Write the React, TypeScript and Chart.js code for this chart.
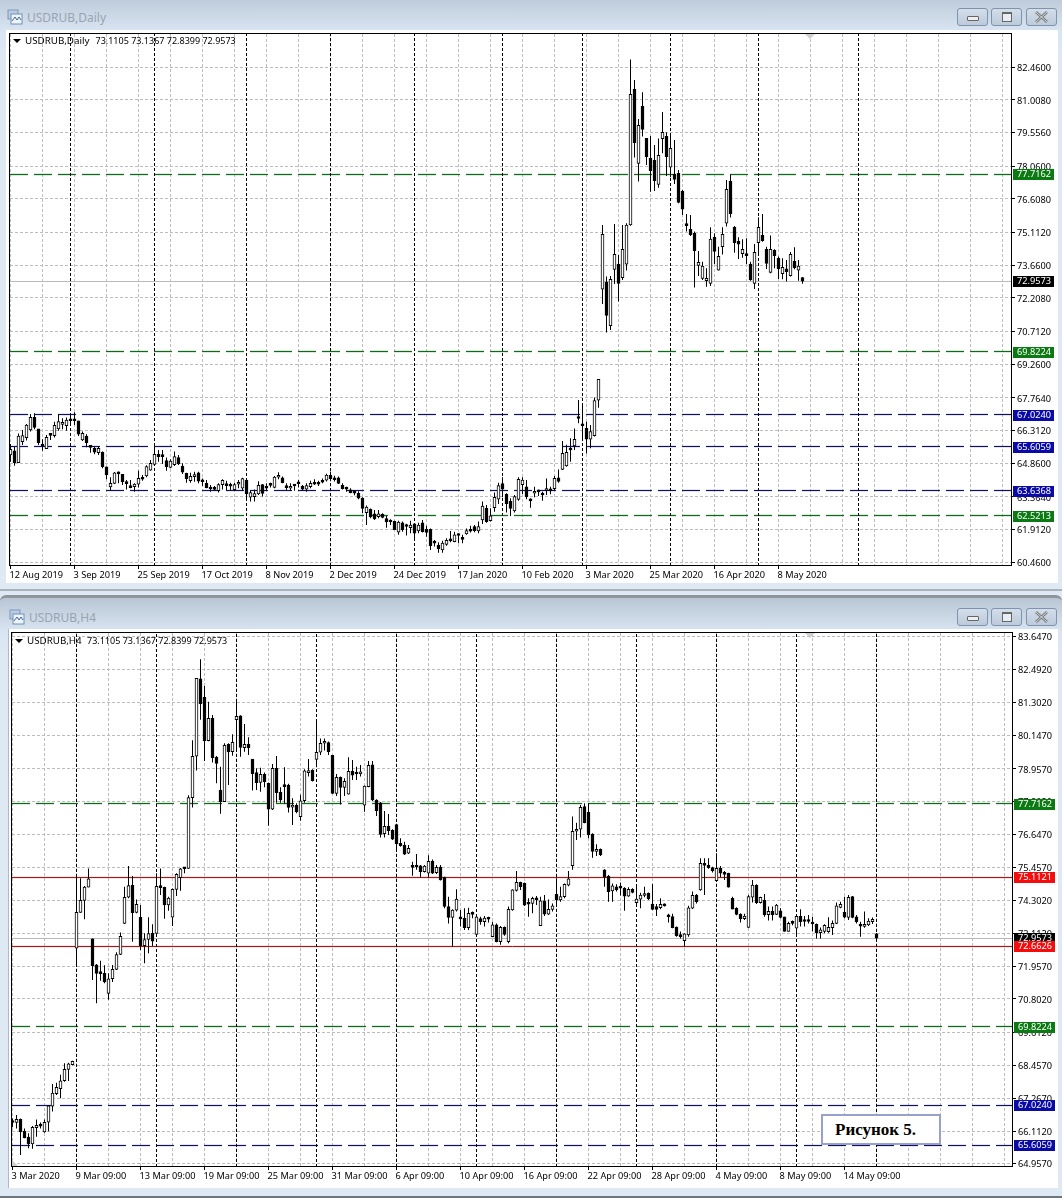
import React, { useEffect, useRef } from "react";
import { Chart, registerables } from "chart.js";

Chart.register(...registerables);

// ---------- Daily chart values: [open, high, low, close] ----------
const dailyAug2019 = [
  [65.23,65.72,64.93,65.48],[65.41,65.60,64.75,64.89],[64.89,66.19,64.89,66.07],[65.82,66.34,65.67,66.09],
  [66.00,66.61,65.87,66.56],[66.34,67.05,66.27,66.90],[66.90,67.08,66.37,66.46],[66.39,66.39,65.67,65.78],
  [65.70,65.93,65.42,65.63],[65.51,66.12,65.51,66.01],[66.19,66.19,65.90,66.10],[66.09,66.71,66.01,66.55],
  [66.39,67.04,66.31,66.71],[66.59,66.86,66.37,66.61],[66.53,66.90,66.31,66.78],
];
const dailySep2019 = [
  [66.78,67.01,66.64,66.75],[66.78,67.13,66.56,66.75],[66.75,66.75,66.07,66.16],[65.90,66.27,65.85,66.19],
  [66.07,66.15,65.57,65.78],[65.60,65.67,65.33,65.57],[65.53,65.60,65.26,65.36],[65.33,65.63,65.23,65.53],
  [65.36,65.38,64.64,64.71],[64.70,64.71,64.15,64.34],[63.81,64.24,63.64,63.97],[63.97,64.47,63.94,64.44],
  [64.46,64.50,63.97,64.39],[64.37,64.39,63.90,64.04],[64.01,64.12,63.70,63.96],[63.84,64.12,63.75,63.78],
  [63.82,63.97,63.60,63.94],[63.93,64.53,63.79,64.19],[64.19,64.34,64.09,64.15],[64.30,64.77,64.24,64.71],
  [64.56,65.01,64.53,64.86],
];
const dailyOct2019 = [
  [64.81,65.60,64.78,65.26],[65.26,65.45,64.93,65.16],[65.23,65.45,64.83,65.16],[64.98,65.12,64.53,64.71],
  [64.68,65.04,64.64,64.96],[64.80,65.38,64.74,65.16],[65.12,65.23,64.78,64.83],[64.74,64.86,64.39,64.47],
  [64.41,64.44,64.00,64.18],[64.09,64.44,64.00,64.28],[64.27,64.49,64.04,64.28],[64.44,64.49,63.97,64.07],
  [64.10,64.19,63.85,64.04],[63.97,64.12,63.75,63.78],[63.75,63.90,63.60,63.72],[63.73,63.85,63.64,63.70],
  [63.64,63.97,63.56,63.91],[63.91,64.15,63.70,64.10],[63.90,64.09,63.64,63.87],[63.87,64.00,63.64,63.84],
  [63.69,64.00,63.64,63.91],[63.93,64.12,63.75,63.99],[63.75,64.22,63.64,64.18],
];
const dailyNov2019 = [
  [64.12,64.19,63.30,63.50],[63.35,63.64,63.16,63.56],[63.38,63.70,63.16,63.52],[63.50,64.06,63.45,63.88],
  [63.91,63.94,63.38,63.52],[63.85,63.97,63.64,63.75],[63.94,64.00,63.79,63.88],[63.79,64.30,63.75,64.25],
  [64.24,64.46,64.15,64.33],[64.21,64.27,63.97,64.00],[63.85,63.97,63.64,63.78],[63.75,63.97,63.64,63.84],
  [63.88,63.94,63.64,63.85],[63.97,64.12,63.79,63.95],[63.85,63.90,63.65,63.71],[63.71,63.97,63.60,63.87],
  [63.82,64.09,63.75,63.97],[63.97,64.15,63.90,63.93],[63.96,64.09,63.85,63.93],[64.06,64.19,63.97,64.02],
  [64.11,64.40,64.05,64.34],
];
const dailyDec2019 = [
  [64.33,64.49,64.15,64.18],[64.16,64.31,64.05,64.13],[64.21,64.27,63.94,63.97],[63.88,63.97,63.70,63.73],
  [63.75,63.82,63.60,63.71],[63.68,63.75,63.53,63.56],[63.57,63.65,63.44,63.53],[63.53,63.62,63.26,63.31],
  [63.31,63.35,62.64,62.85],[62.67,62.98,62.12,62.92],[62.82,62.85,62.42,62.48],[62.61,62.79,62.34,62.39],
  [62.49,62.79,62.42,62.61],[62.59,62.64,62.42,62.46],[62.40,62.52,62.00,62.27],[62.28,62.37,62.12,62.25],
  [62.28,62.31,61.90,61.91],[61.80,62.31,61.68,62.25],[62.22,62.27,61.82,61.90],[62.08,62.17,61.65,62.05],
  [62.00,62.31,61.75,62.11],
];
const dailyJan2020 = [
  [62.17,62.20,61.48,61.75],[61.85,62.22,61.75,62.12],[62.22,62.34,61.79,61.82],[61.93,62.08,61.60,61.79],
  [61.93,61.96,61.01,61.20],[61.39,61.45,61.16,61.31],[61.23,61.35,60.89,61.07],[61.01,61.42,60.89,61.31],
  [61.26,61.53,61.20,61.44],[61.44,61.85,61.35,61.41],[61.38,61.82,61.35,61.68],[61.68,61.75,61.31,61.65],
  [61.51,61.68,61.31,61.48],[61.72,61.96,61.68,61.87],[61.88,62.09,61.78,61.84],[62.05,62.12,61.80,61.87],
  [61.85,62.27,61.75,62.05],[62.34,63.16,62.16,62.96],[62.86,63.01,62.22,62.27],[62.31,62.86,62.27,62.53],
  [62.89,63.56,62.71,63.35],[63.27,64.00,63.05,63.87],
];
const dailyFeb2020 = [
  [63.96,64.24,63.35,63.71],[63.48,63.53,62.67,63.07],[63.17,63.31,62.52,62.86],[62.74,63.45,62.67,63.38],
  [63.26,64.24,63.20,64.15],[63.91,64.24,63.50,64.11],[63.82,64.12,63.26,63.38],[63.23,63.31,62.89,63.19],
  [63.53,63.82,63.35,63.60],[63.62,63.68,63.41,63.59],[63.48,63.60,63.20,63.45],[63.65,64.19,63.45,63.73],
  [63.73,63.82,63.48,63.63],[63.73,64.30,63.65,64.19],[64.22,64.59,64.00,64.05],[64.59,65.85,64.56,65.30],
  [64.74,65.68,64.71,65.35],[65.48,65.97,64.93,65.45],[65.63,66.41,65.45,65.93],[66.90,67.67,66.64,66.85],
];
const dailyMar2020 = [
  [66.58,67.45,65.90,66.53],[66.41,66.71,65.30,65.93],[65.93,66.56,65.53,66.27],[66.09,67.79,66.05,67.65],
  [67.67,68.59,67.33,68.59],[72.60,75.45,71.94,75.04],[72.91,73.16,70.67,71.43],[70.98,73.19,70.79,73.04],
  [73.48,75.50,72.83,74.15],[73.71,74.12,72.05,72.86],[73.11,75.45,73.01,74.37],[73.71,75.53,73.43,75.45],
  [75.45,82.81,75.42,81.26],[81.48,81.90,78.45,79.11],[78.19,80.16,77.38,79.88],[80.74,81.35,79.38,79.70],
  [79.30,79.30,78.12,78.49],[78.42,79.41,76.93,77.87],[78.33,79.01,76.96,77.42],[77.26,79.30,77.11,78.55],
  [79.29,80.47,78.64,79.57],[79.39,79.57,77.63,78.49],
];
const dailyApr2020 = [
  [78.02,79.45,77.57,78.86],[77.70,79.23,77.27,77.48],[77.75,77.90,76.42,76.45],[76.95,77.01,75.90,76.15],
  [75.50,75.94,75.16,75.42],[75.26,75.90,74.96,75.02],[75.08,75.16,72.67,74.31],[73.65,74.30,73.19,73.79],
  [73.08,73.82,73.01,73.63],[72.98,73.53,72.71,73.08],[72.86,75.35,72.74,74.82],[74.91,75.08,73.72,74.28],
  [73.44,74.49,73.43,74.06],[74.49,75.35,74.14,75.04],[75.53,77.45,75.38,77.04],[77.39,77.70,75.79,75.94],
  [75.35,75.41,74.22,74.67],[74.73,74.91,73.94,74.60],[74.18,74.82,74.00,74.37],[74.17,74.86,73.72,74.09],
  [73.71,73.82,72.97,73.01],[72.86,74.61,72.61,74.24],
];
const dailyMay2020 = [
  [74.67,75.80,74.08,75.35],[74.99,75.94,74.71,74.76],[74.37,74.49,73.50,73.74],[73.34,74.99,73.31,74.37],
  [74.33,74.37,73.53,74.09],[73.97,74.05,73.05,73.51],[73.29,73.97,73.04,73.57],[73.50,73.90,72.94,73.38],
  [73.20,74.25,73.16,74.15],[73.84,74.46,73.48,73.56],[73.44,73.90,72.97,73.62],[73.1105,73.1367,72.8399,72.9573],
];
const dailyCandles = [
  ...dailyAug2019, ...dailySep2019, ...dailyOct2019, ...dailyNov2019, ...dailyDec2019,
  ...dailyJan2020, ...dailyFeb2020, ...dailyMar2020, ...dailyApr2020, ...dailyMay2020,
];

// ---------- H4 chart values: [open, high, low, close] ----------
const h4Part1 = [
  [66.47,66.56,66.25,66.42],[66.42,66.69,66.21,66.53],[66.53,66.56,65.27,66.09],[66.12,66.21,65.86,65.87],
  [65.90,66.04,65.51,65.66],[65.66,66.30,65.49,66.25],[66.24,66.53,65.92,66.32],[66.32,66.42,66.21,66.29],
  [66.09,66.53,66.06,66.43],[66.43,67.04,66.11,67.01],[67.00,67.79,66.81,67.46],[67.44,67.83,67.40,67.67],
  [67.62,68.11,67.28,67.90],[67.90,68.52,67.87,68.31],[68.30,68.54,67.89,68.50],[68.47,68.61,68.45,68.59],
  [72.60,75.12,71.98,73.87],[73.87,75.08,73.86,74.30],[74.30,74.81,73.63,74.77],[74.77,75.43,74.76,75.06],
  [72.93,72.95,71.47,71.98],[72.01,72.04,70.65,71.71],[71.72,72.16,71.45,71.70],[71.71,72.00,71.36,71.41],
  [71.00,71.71,70.77,71.52],[71.52,72.01,71.40,71.85],[71.85,72.46,71.83,72.38],[72.38,73.16,72.36,73.02],
  [73.48,74.78,73.46,74.41],[74.41,75.52,74.37,74.82],[74.83,75.16,72.83,73.86],[73.87,74.33,73.84,74.16],
  [73.70,74.13,72.54,72.69],[72.69,73.13,72.07,72.91],[72.91,73.70,72.42,73.12],[73.13,73.45,72.68,72.85],
];
const h4Part2 = [
  [73.13,75.26,73.11,74.80],[74.80,75.43,74.49,74.75],[74.76,74.78,73.65,74.14],[74.14,74.43,73.93,74.38],
  [73.70,74.72,73.39,74.69],[74.69,75.26,74.45,75.22],[75.10,75.45,74.64,75.42],[75.47,75.47,75.26,75.42],
  [75.43,78.03,75.42,77.94],[77.94,79.98,77.59,79.41],[79.41,82.17,78.90,82.17],[82.15,82.85,80.70,81.27],
  [81.50,81.90,79.24,79.96],[79.96,81.34,79.94,80.75],[80.75,80.87,79.19,79.36],[79.38,79.42,78.45,79.15],
  [78.21,79.04,77.37,77.80],[77.80,79.87,77.79,79.80],[79.83,79.87,78.39,79.56],[79.57,80.19,79.43,79.90],
  [80.71,81.40,79.63,80.82],[80.84,80.86,79.39,79.72],[79.71,80.55,79.57,79.83],[79.84,80.08,79.45,79.71],
  [79.31,79.31,78.19,78.79],
];
const h4Part3 = [
  [78.83,78.98,78.21,78.47],[78.48,79.00,78.15,78.77],[78.77,78.83,78.31,78.51],[78.45,78.48,76.94,77.53],
  [77.53,79.13,77.50,78.98],[78.98,79.42,77.76,78.12],[78.13,78.31,77.76,77.86],[78.38,79.02,77.72,78.33],
  [78.39,78.43,77.41,77.59],[77.60,77.92,76.97,77.68],[77.67,77.74,77.39,77.44],[77.27,78.04,77.12,77.83],
  [77.83,78.95,77.76,78.89],[78.83,79.31,78.69,78.90],[78.92,78.95,78.51,78.54],[79.30,80.69,79.02,79.55],
  [79.55,80.04,79.45,79.87],[79.87,80.04,79.61,79.89],[79.89,79.93,79.45,79.57],[79.44,79.44,78.07,78.09],
  [78.09,78.78,78.00,78.66],[78.66,78.69,77.70,78.30],[78.30,78.63,78.00,78.52],[78.06,79.37,78.05,78.87],
  [78.87,79.28,78.57,78.74],[78.80,79.04,78.57,78.78],[78.78,79.10,78.69,78.86],[77.67,78.37,77.44,78.35],
  [78.33,79.24,78.31,79.09],[79.10,79.24,77.82,77.86],[77.85,77.88,77.29,77.48],[77.76,77.79,76.53,76.64],
  [76.66,77.47,76.53,76.92],[76.92,77.36,76.62,76.77],[76.78,76.82,76.44,76.47],[76.99,77.01,76.03,76.30],
  [76.32,76.50,76.20,76.24],[76.26,76.38,75.91,75.94],[75.97,76.26,75.94,76.14],
];
const h4Part4 = [
  [75.51,75.67,75.17,75.47],[75.52,75.94,75.38,75.48],[75.52,75.55,75.12,75.32],[75.32,75.55,75.29,75.51],
  [75.26,75.90,75.12,75.68],[75.69,75.75,75.23,75.26],[75.28,75.55,75.23,75.47],[75.48,75.55,75.00,75.02],
  [75.12,75.14,74.02,74.08],[74.08,74.43,73.48,73.69],[73.69,73.98,72.66,73.95],[73.95,74.69,73.90,74.34],
  [73.66,73.96,73.37,73.64],[73.66,74.02,73.25,73.33],[73.33,74.04,73.25,73.84],[73.84,73.90,73.66,73.80],
  [73.09,73.80,73.07,73.71],[73.65,73.72,73.43,73.54],[73.54,73.74,73.37,73.67],[73.66,73.72,73.51,73.63],
  [73.01,73.54,72.99,73.43],[73.43,73.48,72.81,72.83],[72.83,73.39,72.72,73.34],[73.34,73.37,73.04,73.09],
  [72.83,74.08,72.78,73.98],[73.96,74.69,73.93,74.67],[74.65,75.34,74.61,74.94],[74.94,74.96,74.67,74.78],
  [74.90,74.93,74.10,74.13],[74.22,74.37,73.72,74.16],[74.19,74.43,73.84,74.37],[74.39,74.45,74.13,74.31],
  [73.40,74.43,73.39,74.28],[74.28,74.49,73.74,73.81],[73.81,74.33,73.78,73.98],[73.98,74.19,73.90,74.10],
  [74.51,75.08,74.10,74.31],
];
const h4Part5 = [
  [74.31,74.78,74.25,74.43],[74.43,74.90,74.37,74.87],[74.84,75.34,74.80,75.06],[75.53,77.27,75.38,76.75],
  [76.75,77.05,76.44,76.82],[76.82,77.68,76.53,77.60],[77.62,77.74,77.03,77.05],[77.42,77.74,76.50,76.62],
  [76.65,76.68,75.81,76.03],[76.03,76.29,75.87,76.11],[76.11,76.14,75.87,75.91],[75.38,75.40,74.78,75.12],
  [75.16,75.20,74.25,74.61],[74.63,74.90,74.25,74.81],[74.78,74.87,74.61,74.67],[74.76,74.93,74.47,74.73],
  [74.73,74.76,73.93,74.45],[74.45,74.76,74.43,74.69],[74.69,74.73,74.55,74.58],[74.22,74.78,74.13,74.34],
  [74.34,74.57,74.02,74.49],[74.47,74.78,74.41,74.54],[74.55,74.58,74.31,74.35],[74.17,74.88,73.96,73.98],
  [74.08,74.17,73.74,73.98],[74.04,74.37,73.98,74.16],[74.16,74.19,74.08,74.10],[73.73,73.82,73.51,73.71],
  [73.72,73.82,73.31,73.33],[73.35,73.37,73.01,73.05],[73.06,73.19,72.95,73.01],[72.87,73.13,72.66,73.11],
  [73.07,74.11,73.01,74.03],[74.02,74.61,73.99,74.48],[74.49,74.52,74.19,74.24],
];
const h4Part6 = [
  [74.67,75.79,74.64,75.61],[75.61,75.79,74.49,75.54],[75.55,75.79,75.42,75.46],[75.46,75.49,75.29,75.34],
  [75.00,75.97,74.96,75.43],[75.43,75.52,75.12,75.26],[75.26,75.34,75.02,75.22],[75.26,75.28,74.75,74.77],
  [74.37,74.43,73.98,73.99],[74.02,74.05,73.77,73.80],[73.80,73.84,73.51,73.65],[73.65,73.82,73.60,73.74],
  [73.34,74.49,73.33,74.43],[74.41,75.02,74.22,74.84],[74.84,74.87,74.17,74.22],[74.22,74.43,74.19,74.41],
  [74.31,74.52,73.72,73.78],[73.79,74.08,73.58,73.91],[73.91,74.08,73.58,73.78],[73.80,74.17,73.78,74.13],
  [73.93,74.02,73.66,73.69],[73.71,73.72,73.19,73.20],[73.20,73.54,73.19,73.48],[73.52,73.58,73.42,73.48],
  [73.31,73.78,73.05,73.73],[73.73,73.98,73.37,73.54],[73.59,73.74,73.37,73.55],[73.59,73.78,73.48,73.55],
  [73.48,73.72,73.19,73.46],[73.45,73.48,72.95,73.15],[73.15,73.34,72.95,73.25],[73.20,73.45,73.13,73.41],
  [73.19,73.70,73.15,73.34],[73.33,73.58,73.07,73.48],[73.48,74.22,73.46,74.10],[74.05,74.25,74.02,74.16],
  [73.87,74.43,73.66,73.70],[73.69,74.49,73.60,74.41],[74.43,74.45,73.66,73.69],[73.71,73.78,73.48,73.53],
  [73.46,73.54,73.01,73.38],[73.37,73.90,73.33,73.45],[73.43,73.66,73.39,73.56],[73.54,73.69,73.46,73.63],
  [73.1105,73.1367,72.8399,72.9573],
];
const h4Candles = [...h4Part1, ...h4Part2, ...h4Part3, ...h4Part4, ...h4Part5, ...h4Part6];

// ---------- Axes ----------
const dailyPriceTicks = [82.46,81.008,79.556,78.06,76.608,75.112,73.66,72.208,70.712,69.26,67.764,66.312,64.86,63.364,61.912,60.46];
const h4PriceTicks = [83.647,82.492,81.302,80.147,78.957,77.802,76.647,75.457,74.302,73.112,71.957,70.802,69.612,68.457,67.267,66.112,64.957];
const dailyDateLabels = ["12 Aug 2019","3 Sep 2019","25 Sep 2019","17 Oct 2019","8 Nov 2019","2 Dec 2019","24 Dec 2019","17 Jan 2020","10 Feb 2020","3 Mar 2020","25 Mar 2020","16 Apr 2020","8 May 2020"];
const h4DateLabels = ["3 Mar 2020","9 Mar 09:00","13 Mar 09:00","19 Mar 09:00","25 Mar 09:00","31 Mar 09:00","6 Apr 09:00","10 Apr 09:00","16 Apr 09:00","22 Apr 09:00","28 Apr 09:00","4 May 09:00","8 May 09:00","14 May 09:00"];
const dailySeparators = [15,36,59,80,101,123,143,165,187,212];
const h4Separators = [16,36,56,76,96,116,136,156,176,196,216];

// ---------- Levels ----------
const lastPrice = 72.9573;
const dailyLevelValues = [77.7162,69.8224,67.024,65.6059,63.6368,62.5213];
const dailyLevelKinds = ["green","green","blue","blue","blue","green"];
const h4LevelValues = [77.7162,75.1121,72.6626,69.8224,67.024,65.6059];
const h4LevelKinds = ["green","red","red","green","blue","blue"];

const LEVEL_STYLE: Record<string, { line: string; halo: string; badge: string; dash: number[] }> = {
  green: { line: "#0f6b1a", halo: "rgba(0,120,20,0.14)", badge: "#0b7a12", dash: [18, 6] },
  blue: { line: "#10105e", halo: "rgba(0,0,140,0.10)", badge: "#0a0aa6", dash: [18, 6] },
  red: { line: "#9c1c1c", halo: "rgba(255,0,0,0.10)", badge: "#f50d0d", dash: [] },
};

const FONT = '"Noto Sans", sans-serif';

type Spec = {
  candles: number[][];
  priceTicks: number[];
  dateLabels: string[];
  separators: number[];
  levelValues: number[];
  levelKinds: string[];
  left: number;
  top: number;
  xMin: number;
  xMax: number;
  yMin: number;
  yMax: number;
  axisH: number;
  badgeX: number;
};

function makeChart(canvas: HTMLCanvasElement, s: Spec) {
  const gridColor = "#bdbdbd";
  const xTicks: number[] = [];
  for (let i = 0; i <= s.xMax; i += 8) xTicks.push(i);

  const levelPlugin = {
    id: "levels",
    beforeDatasetsDraw(chart: any) {
      const { ctx, chartArea: a, scales } = chart;
      ctx.save();
      ctx.beginPath();
      ctx.rect(a.left, a.top, a.right - a.left, a.bottom - a.top);
      ctx.clip();
      const yLast = Math.round(scales.y.getPixelForValue(lastPrice) - 0.5) + 0.5;
      ctx.strokeStyle = "#b9b9b9";
      ctx.lineWidth = 1;
      ctx.beginPath();
      ctx.moveTo(a.left, yLast);
      ctx.lineTo(a.right, yLast);
      ctx.stroke();
      s.levelValues.forEach((v, i) => {
        const st = LEVEL_STYLE[s.levelKinds[i]];
        const y = Math.round(scales.y.getPixelForValue(v) - 0.5) + 0.5;
        ctx.setLineDash(st.dash);
        ctx.strokeStyle = st.halo;
        ctx.lineWidth = 3;
        ctx.beginPath();
        ctx.moveTo(a.left, y);
        ctx.lineTo(a.right, y);
        ctx.stroke();
        ctx.strokeStyle = st.line;
        ctx.lineWidth = 1;
        ctx.beginPath();
        ctx.moveTo(a.left, y);
        ctx.lineTo(a.right, y);
        ctx.stroke();
        ctx.setLineDash([]);
      });
      ctx.restore();
    },
    afterDraw(chart: any) {
      const { ctx, chartArea: a, scales } = chart;
      ctx.save();
      ctx.strokeStyle = "#000";
      ctx.lineWidth = 1;
      ctx.strokeRect(a.left - 0.5, a.top - 0.5, a.right - a.left, a.bottom - a.top);
      ctx.font = `9.2px ${FONT}`;
      ctx.textBaseline = "middle";
      ctx.textAlign = "left";
      const badge = (v: number, color: string) => {
        const y = Math.round(scales.y.getPixelForValue(v));
        ctx.fillStyle = color;
        ctx.fillRect(s.badgeX, y - 5, 41, 11);
        ctx.fillStyle = "#fff";
        ctx.fillText(v.toFixed(4), s.badgeX + 4, y + 0.5);
      };
      badge(lastPrice, "#000");
      s.levelValues.forEach((v, i) => badge(v, LEVEL_STYLE[s.levelKinds[i]].badge));
      ctx.restore();
    },
  };

  return new Chart(canvas, {
    type: "bar",
    data: {
      datasets: [
        ...s.separators.map((x) => ({
          type: "line" as const,
          data: [{ x, y: s.yMin }, { x, y: s.yMax }],
          borderColor: "#000",
          borderWidth: 1,
          borderDash: [3, 2],
          pointRadius: 0,
          order: 3,
        })),
        {
          data: s.candles.map((c, i) => ({ x: i, y: [c[2], c[1]] })),
          backgroundColor: "#000",
          borderWidth: 0,
          barThickness: 1,
          inflateAmount: 0,
          grouped: false,
          order: 2,
        },
        {
          data: s.candles.map((c, i) => ({ x: i, y: [c[0], c[3]] })),
          backgroundColor: s.candles.map((c) => (c[3] >= c[0] ? "#fff" : "#000")),
          borderColor: "#000",
          borderWidth: 1,
          borderSkipped: false,
          barThickness: 3,
          minBarLength: 2,
          grouped: false,
          order: 1,
        },
      ] as any,
    },
    options: {
      responsive: false,
      animation: false,
      devicePixelRatio: 1,
      layout: { padding: { left: s.left, top: s.top, right: 0, bottom: 0 } },
      plugins: { legend: { display: false }, tooltip: { enabled: false }, title: { display: false } },
      events: [],
      scales: {
        x: {
          type: "linear",
          offset: false,
          min: s.xMin,
          max: s.xMax,
          afterFit: (sc: any) => { sc.height = s.axisH; },
          afterBuildTicks: (sc: any) => { sc.ticks = xTicks.map((value) => ({ value })); },
          border: { display: false, dash: [3, 2] },
          grid: {
            offset: false,
            color: gridColor,
            lineWidth: 1,
            tickLength: 3,
            tickBorderDash: [],
            tickColor: (ctx: any) => (ctx.tick && ctx.tick.value % 16 === 0 && ctx.tick.value / 16 < s.dateLabels.length ? "#000" : "rgba(0,0,0,0)"),
          } as any,
          ticks: {
            autoSkip: false,
            maxRotation: 0,
            minRotation: 0,
            align: "start",
            padding: 1,
            labelOffset: -1,
            color: "#000",
            font: { family: FONT, size: 9.2 },
            callback: (v: any) => (v % 16 === 0 ? s.dateLabels[v / 16] ?? "" : ""),
          },
        },
        y: {
          type: "linear",
          position: "right",
          min: s.yMin,
          max: s.yMax,
          afterFit: (sc: any) => { sc.width = 1062 - (s.badgeX - 1); },
          afterBuildTicks: (sc: any) => { sc.ticks = s.priceTicks.map((value) => ({ value })); },
          border: { display: false, dash: [3, 2] },
          grid: { color: gridColor, lineWidth: 1, tickLength: 3, tickColor: "#000", tickBorderDash: [] } as any,
          ticks: {
            autoSkip: false,
            padding: 2,
            labelOffset: 1,
            color: "#000",
            font: { family: FONT, size: 9.2 },
            callback: (v: any) => Number(v).toFixed(4),
          },
        },
      },
    } as any,
    plugins: [levelPlugin],
  } as any);
}

function Buttons({ top }: { top: number }) {
  const base: React.CSSProperties = {
    position: "absolute",
    top,
    height: 18,
    width: 31,
    border: "1px solid #7f93ad",
    borderRadius: 3,
    background: "linear-gradient(#d3deea,#bccada)",
    boxSizing: "border-box",
  };
  return (
    <>
      <div style={{ ...base, left: 957 }}>
        <div style={{ position: "absolute", left: 9, top: 7, width: 10, height: 3, border: "1px solid #666", borderRadius: 1, background: "#eee" }} />
      </div>
      <div style={{ ...base, left: 991 }}>
        <div style={{ position: "absolute", left: 10, top: 3, width: 8, height: 7, border: "1px solid #666", borderTopWidth: 2, background: "#e8eef5" }} />
      </div>
      <div style={{ ...base, left: 1026 }}>
        <svg width="29" height="16" style={{ position: "absolute", left: 0, top: 0 }}>
          <path d="M9 3 L20 13 M20 3 L9 13" stroke="#777" strokeWidth="2.6" />
          <path d="M9 3 L20 13 M20 3 L9 13" stroke="#eef2f6" strokeWidth="0.8" />
        </svg>
      </div>
    </>
  );
}

function Icon({ left, top }: { left: number; top: number }) {
  return (
    <svg width="16" height="16" style={{ position: "absolute", left, top }}>
      <rect x="1" y="1" width="10" height="9" fill="#b9cce4" stroke="#7e97b8" />
      <rect x="4" y="5" width="11" height="10" fill="#eef4fb" stroke="#7290b4" />
      <path d="M5 12 L8 8 L10 11 L12 8 L14 11" fill="none" stroke="#44688f" />
    </svg>
  );
}

function ChartText({ left, top, name, prices, pricesLeft }: { left: number; top: number; name: string; prices: string; pricesLeft: number }) {
  const text: React.CSSProperties = { position: "absolute", whiteSpace: "pre", color: "#000", lineHeight: "14px" };
  return (
    <>
      <div style={{ position: "absolute", left, top: top + 4, width: 0, height: 0, borderLeft: "4px solid transparent", borderRight: "4px solid transparent", borderTop: "4px solid #000" }} />
      <div style={{ ...text, left: left + 12, top: top - 1, fontFamily: FONT, fontSize: 9.8 }}>{name}</div>
      <div style={{ ...text, left: pricesLeft, top: top - 1, fontFamily: FONT, fontSize: 9 }}>{prices}</div>
    </>
  );
}

function Marker({ left, top }: { left: number; top: number }) {
  return <div style={{ position: "absolute", left, top, width: 0, height: 0, borderLeft: "5px solid transparent", borderRight: "5px solid transparent", borderTop: "5px solid #cfcfcf" }} />;
}

export default function App() {
  const a = useRef<HTMLCanvasElement>(null);
  const b = useRef<HTMLCanvasElement>(null);

  useEffect(() => {
    const daily = makeChart(a.current!, {
      candles: dailyCandles,
      priceTicks: dailyPriceTicks,
      dateLabels: dailyDateLabels,
      separators: dailySeparators,
      levelValues: dailyLevelValues,
      levelKinds: dailyLevelKinds,
      left: 10,
      top: 34,
      xMin: -0.125,
      xMax: 250.375,
      yMin: 60.296,
      yMax: 83.94,
      axisH: 24,
      badgeX: 1013,
    });
    const h4 = makeChart(b.current!, {
      candles: h4Candles,
      priceTicks: h4PriceTicks,
      dateLabels: h4DateLabels,
      separators: h4Separators,
      levelValues: h4LevelValues,
      levelKinds: h4LevelKinds,
      left: 12,
      top: 33,
      xMin: -0.125,
      xMax: 250.125,
      yMin: 64.843,
      yMax: 83.7792,
      axisH: 31,
      badgeX: 1014,
    });
    return () => {
      daily.destroy();
      h4.destroy();
    };
  }, []);

  const titleStyle: React.CSSProperties = { position: "absolute", font: `12px/16px ${FONT}`, color: "#9aa4b0" };

  return (
    <div style={{ position: "absolute", left: 0, top: 0, width: 1062, height: 1198, overflow: "hidden", background: "#dfe9f4" }}>
      {/* upper window */}
      <div style={{ position: "absolute", left: 0, top: 0, width: 1062, height: 589, background: "linear-gradient(#bfccdb 0px,#d9e5f2 32px,#dfe9f4 60px)", borderBottom: "2px solid #a9b2bc" }} />
      <div style={{ position: "absolute", left: 6, top: 30, width: 1052, height: 553, background: "#fff" }} />
      <Icon left={7} top={9} />
      <div style={{ ...titleStyle, left: 27, top: 10 }}>USDRUB,Daily</div>
      <Buttons top={8} />
      <canvas ref={a} width={1062} height={590} style={{ position: "absolute", left: 0, top: 0, width: 1062, height: 590 }} />
      <ChartText left={13} top={35} name="USDRUB,Daily" prices="73.1105 73.1367 72.8399 72.9573" pricesLeft={95.5} />
      <Marker left={805} top={34} />

      {/* lower window */}
      <div style={{ position: "absolute", left: 0, top: 595, width: 1062, height: 603, borderTop: "3px solid #8e959c", borderBottom: "2px solid #6f767d", borderRadius: "6px 6px 0 0", boxSizing: "border-box", background: "linear-gradient(#b9c6d4 0px,#d9e5f2 34px,#dfe9f4 60px)" }} />
      <div style={{ position: "absolute", left: 8, top: 629, width: 1050, height: 559, background: "#fff", borderLeft: "1px solid #aeb9c5", boxSizing: "border-box" }} />
      <Icon left={9} top={609} />
      <div style={{ ...titleStyle, left: 29, top: 610 }}>USDRUB,H4</div>
      <Buttons top={608} />
      <canvas ref={b} width={1062} height={598} style={{ position: "absolute", left: 0, top: 600, width: 1062, height: 598 }} />
      <ChartText left={15} top={635} name="USDRUB,H4" prices="73.1105 73.1367 72.8399 72.9573" pricesLeft={87} />
      <Marker left={805} top={633} />
      <div style={{ position: "absolute", left: 12, top: 1160, width: 0, height: 0, borderBottom: "6px solid #cfcfcf", borderRight: "6px solid transparent" }} />

      {/* caption */}
      <div style={{ position: "absolute", left: 821, top: 1114, width: 120, height: 31, boxSizing: "border-box", border: "2px solid #9aa0cc", background: "#fff", font: 'bold 17px/27px "Liberation Serif", serif', color: "#000", paddingLeft: 12 }}>Рисунок 5.</div>
    </div>
  );
}
